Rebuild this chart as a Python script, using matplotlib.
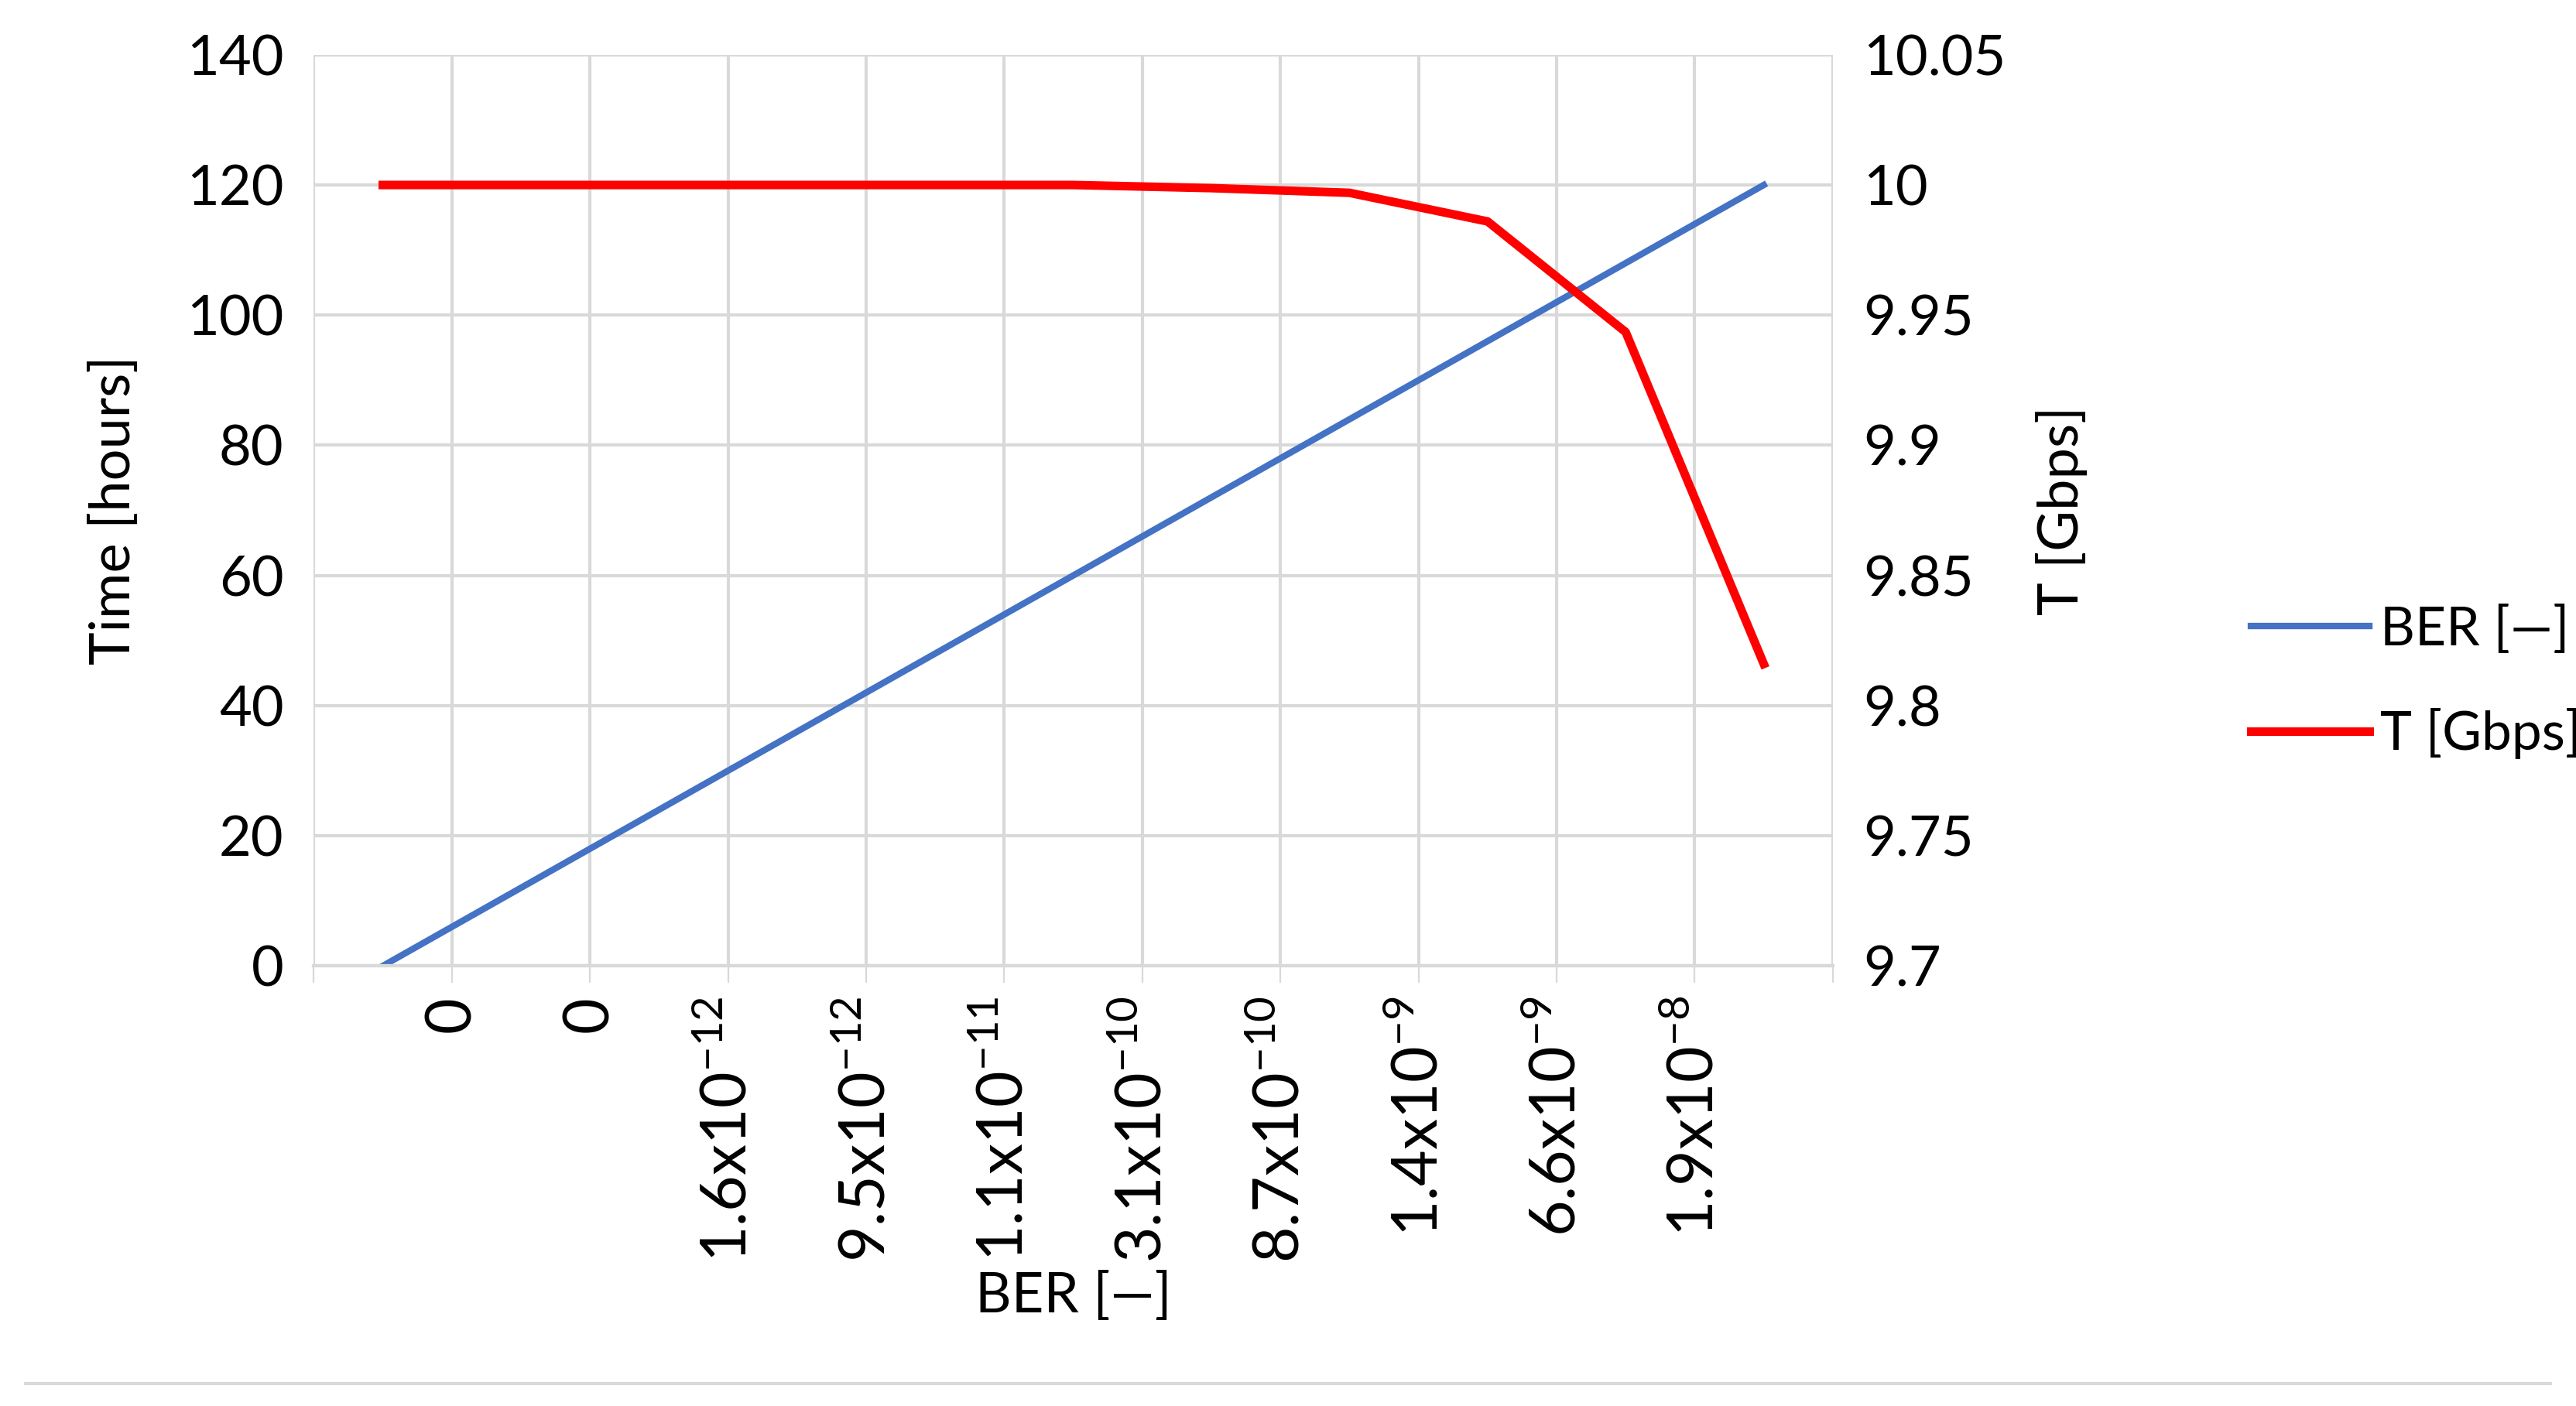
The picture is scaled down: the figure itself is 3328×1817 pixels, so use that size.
import matplotlib
matplotlib.use('Agg')
import numpy as np
import matplotlib.pyplot as plt

plt.rcParams['font.family'] = ['Lato', 'DejaVu Sans']
plt.rcParams['mathtext.fontset'] = 'custom'
plt.rcParams['mathtext.rm'] = 'Lato'
plt.rcParams['font.size'] = 26

# data
time_hours = [0, 12, 24, 36, 48, 60, 72, 84, 96, 108, 120]
throughput = [10.0, 10.0, 10.0, 10.0, 10.0, 10.0, 9.9988, 9.997, 9.986, 9.9435, 9.816]
ber_labels = ['0', '0', r'1.6x10$^{-12}$', r'9.5x10$^{-12}$', r'1.1x10$^{-11}$',
              r'3.1x10$^{-10}$', r'8.7x10$^{-10}$', r'1.4x10$^{-9}$', r'6.6x10$^{-9}$',
              r'1.9x10$^{-8}$']

x = np.arange(len(time_hours))

fig = plt.figure(figsize=(16.64, 9.085), dpi=200)
ax = fig.add_axes([0.1218, 0.313, 0.5897, 0.648])
ax2 = ax.twinx()

ax.plot(x, time_hours, color='#4472C4', lw=3, label='BER [\u2014]')
ax2.plot(x, throughput, color='#FF0000', lw=4, label='T [Gbps]')

ax.set_xlim(-0.5, len(x) - 0.5)
ax.set_ylim(0, 140)
ax.set_yticks(np.arange(0, 141, 20))
ax2.set_ylim(9.7, 10.05)
ax2.set_yticks([9.7, 9.75, 9.8, 9.85, 9.9, 9.95, 10.0, 10.05])
ax2.set_yticklabels(['9.7', '9.75', '9.8', '9.85', '9.9', '9.95', '10', '10.05'])

ax.set_xticks(np.arange(-0.5, len(x) + 0.5, 1))
ax.set_xticklabels([''] + ber_labels + [''], rotation=90, fontsize=29)
ax.tick_params(axis='x', length=8, color='#D9D9D9', pad=6)
ax.tick_params(axis='y', length=0, pad=14)
ax2.tick_params(axis='y', length=0, pad=14)

ax.grid(True, color='#D9D9D9', lw=1.5)
ax.set_axisbelow(True)
for a in (ax, ax2):
    for s in ('top', 'right', 'left'):
        a.spines[s].set_visible(False)
    a.spines['bottom'].set_color('#D9D9D9')
    a.spines['bottom'].set_linewidth(1.5)

ax.set_ylabel('Time [hours]', labelpad=22)
ax2.set_ylabel('T [Gbps]', labelpad=14)
ax.set_xlabel('BER [\u2014]', labelpad=4)

h1, l1 = ax.get_legend_handles_labels()
h2, l2 = ax2.get_legend_handles_labels()
fig.legend(h1 + h2, l1 + l2, loc='center left', bbox_to_anchor=(0.855, 0.515),
           frameon=False, handlelength=2.2, labelspacing=1.0, handletextpad=0.2,
           fontsize=25)

fig.add_artist(plt.Line2D([0.01, 0.99], [0.016, 0.016], color='#D9D9D9', lw=1.5))

fig.savefig('out.png', dpi=200)
